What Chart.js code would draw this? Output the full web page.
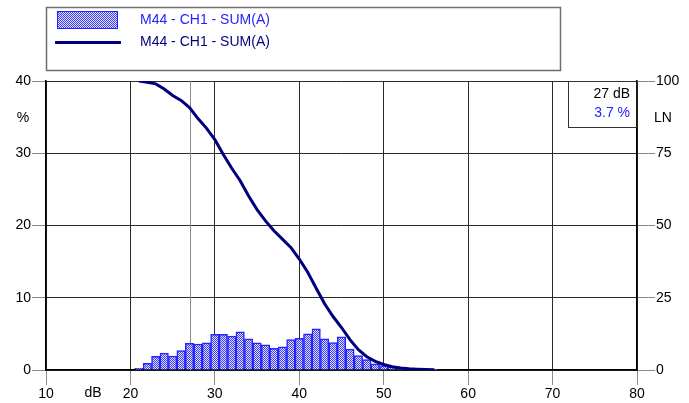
<!DOCTYPE html>
<html>
<head>
<meta charset="utf-8">
<script src="https://cdn.jsdelivr.net/npm/chart.js@4"></script>
<style>
  body { margin: 0; background: #fff; }
  #wrap { width: 689px; height: 403px; position: relative; }
</style>
</head>
<body>
<div id="wrap"><canvas id="chart"></canvas></div>
<script>
// level classes (1 dB) and % of time in each class
const histDb = [21, 22, 23, 24, 25, 26, 27, 28, 29, 30, 31, 32, 33, 34, 35, 36, 37, 38,
  39, 40, 41, 42, 43, 44, 45, 46, 47, 48, 49, 50, 51, 52, 53, 54, 55, 56];
const histPct = [0.23, 0.92, 1.9, 2.35, 1.94, 2.7, 3.7, 3.6, 3.76, 4.95, 4.95, 4.7, 5.3, 4.3,
  3.76, 3.5, 3.0, 3.2, 4.2, 4.4, 5.0, 5.7, 4.3, 3.8, 4.6, 2.9, 2.0, 1.45, 0.85, 0.6, 0.4,
  0.2, 0.15, 0.1, 0.1, 0.05];

// cumulative distribution LN (% of time level is exceeded)
const curveDb = [21, 22, 23, 24, 25, 26, 27, 28, 29, 30, 31, 32, 33, 34, 35, 36, 37, 38,
  39, 40, 41, 42, 43, 44, 45, 46, 47, 48, 49, 50, 51, 52, 53, 54, 55, 56];
const curveLn = [100, 99.6, 99.0, 97.2, 95.0, 93.3, 90.8, 87.0, 83.7, 79.7, 74.6, 69.8, 65.5,
  60.2, 55.5, 51.6, 48.2, 45.3, 42.4, 38.4, 33.8, 28.3, 22.9, 18.5, 14.7, 10.5, 7.0, 4.6,
  3.0, 1.9, 1.1, 0.7, 0.45, 0.3, 0.2, 0.1];

const seriesLabel = 'M44 - CH1 - SUM(A)';
const cursorDb = 27;
const cursorPct = 3.7;

const FONT = '14px "Liberation Sans", Arial, sans-serif';
const BLUE = '#2323ff';
const NAVY = '#00007f';

// checkered fill like the original hatch
function makePattern() {
  const c = document.createElement('canvas');
  c.width = 2; c.height = 2;
  const g = c.getContext('2d');
  g.fillStyle = '#e4e4ff'; g.fillRect(0, 0, 2, 2);
  g.fillStyle = '#3a3aff'; g.fillRect(0, 0, 1, 1); g.fillRect(1, 1, 1, 1);
  return g.createPattern(c, 'repeat');
}
const pattern = makePattern();

const overlay = {
  id: 'overlay',
  beforeDatasetsDraw(chart) {
    const { ctx, chartArea: a, scales } = chart;
    const cx = Math.round(scales.x.getPixelForValue(cursorDb)) + 0.5;
    ctx.save();
    ctx.strokeStyle = '#8c8c8c';
    ctx.lineWidth = 1;
    ctx.beginPath(); ctx.moveTo(cx, a.top); ctx.lineTo(cx, a.bottom); ctx.stroke();
    ctx.restore();
  },
  afterDraw(chart) {
    const { ctx, chartArea: a } = chart;
    ctx.save();
    ctx.font = FONT;
    ctx.textBaseline = 'middle';

    // legend box
    ctx.strokeStyle = '#6e6e6e';
    ctx.lineWidth = 1.5;
    ctx.strokeRect(46.5, 7.5, 514, 63);
    ctx.fillStyle = pattern;
    ctx.fillRect(57, 11, 61, 18);
    ctx.strokeStyle = BLUE; ctx.lineWidth = 1;
    ctx.strokeRect(57.5, 11.5, 60, 17);
    ctx.fillStyle = BLUE;
    ctx.fillText(chart.data.datasets[1].label, 140, 20);
    ctx.strokeStyle = NAVY; ctx.lineWidth = 3;
    ctx.beginPath(); ctx.moveTo(55, 42.5); ctx.lineTo(121, 42.5); ctx.stroke();
    ctx.fillStyle = NAVY;
    ctx.fillText(chart.data.datasets[0].label, 140, 42);

    // cursor readout
    ctx.strokeStyle = '#333'; ctx.lineWidth = 1;
    ctx.strokeRect(568.5, a.top + 0.5, a.right - 568.5, 46);
    ctx.textAlign = 'right';
    ctx.fillStyle = '#000';
    ctx.fillText(cursorDb + ' dB', 630, a.top + 13);
    ctx.fillStyle = BLUE;
    ctx.fillText(cursorPct + ' %', 630, a.top + 32);

    // axis units
    ctx.textAlign = 'center';
    ctx.fillStyle = '#000';
    ctx.fillText('%', 23, 118);
    ctx.fillText('LN', 663, 118);
    ctx.fillText('dB', 93, 393);
    ctx.restore();
  }
};

Chart.defaults.font.family = '"Liberation Sans", Arial, sans-serif';
Chart.defaults.font.size = 14;
Chart.defaults.color = '#000';

new Chart(document.getElementById('chart'), {
  type: 'bar',
  data: {
    datasets: [{
      type: 'line',
      label: seriesLabel,
      data: curveDb.map((d, i) => ({ x: d, y: curveLn[i] })),
      yAxisID: 'y2',
      borderColor: NAVY,
      borderWidth: 3,
      pointRadius: 0,
      tension: 0,
      order: 0
    }, {
      label: seriesLabel,
      data: histDb.map((d, i) => ({ x: d, y: histPct[i] })),
      yAxisID: 'y',
      backgroundColor: pattern,
      borderColor: BLUE,
      borderWidth: 1.5,
      barPercentage: 1,
      categoryPercentage: 1,
      order: 1
    }]
  },
  options: {
    responsive: true,
    maintainAspectRatio: false,
    animation: false,
    layout: { padding: { top: 81, left: 0, right: 0, bottom: 0 } },
    plugins: { legend: { display: false }, tooltip: { enabled: false } },
    scales: {
      x: {
        type: 'linear',
        min: 10, max: 80,
        offset: false,
        ticks: { stepSize: 10, padding: 1, maxRotation: 0 },
        grid: { color: '#2a2a2a', tickColor: '#8c8c8c', tickLength: 15, offset: false },
        border: { color: '#000', width: 1.5 },
        afterFit(s) { s.height = 33; }
      },
      y: {
        position: 'left',
        min: 0, max: 40,
        ticks: { stepSize: 10, padding: 1 },
        grid: { color: '#2a2a2a', tickColor: '#8c8c8c', tickLength: 14 },
        border: { color: '#000', width: 1.5 },
        afterFit(s) { s.width = 46; }
      },
      y2: {
        position: 'right',
        min: 0, max: 100,
        ticks: { stepSize: 25, padding: 1 },
        grid: { drawOnChartArea: false, tickColor: '#8c8c8c', tickLength: 18 },
        border: { color: '#000', width: 1.5 },
        afterFit(s) { s.width = 52; }
      }
    }
  },
  plugins: [overlay]
});
</script>
</body>
</html>
